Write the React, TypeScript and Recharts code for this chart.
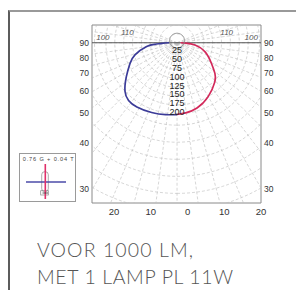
import React from 'react';
import { ComposedChart, Line, XAxis, YAxis, ReferenceLine, ReferenceDot, ReferenceArea } from 'recharts';

// Luminous intensity (cd per 1000 lm) vs angle from nadir (degrees)
const BLUE_ANGLES = [0, 9, 20, 32, 40, 47, 56, 66, 74, 83, 86, 88, 90];
const BLUE_CD = [202, 205, 209, 213, 212, 200, 172, 145, 123, 86, 62, 42, 22];
const RED_ANGLES = [0, 7, 17, 30, 44, 51, 59, 72, 83, 88, 90];
const RED_CD = [202, 199, 192, 175, 153, 137, 113, 83, 51, 25, 10];

// grid / labels
const RING_LABELS = [25, 50, 75, 100, 125, 150, 175, 200];
const OUTER_RINGS = [232, 280, 328, 376, 424, 472, 520, 570];
const RADIAL_STEP = 7.5;
const SIDE_TICKS = [90, 80, 70, 60, 50, 40, 30];
const BOTTOM_TICKS = [-20, -10, 0, 10, 20];
const TOP_LABELS = ['100', '110'];
const LEGEND_TEXT = '0.76 G + 0.04 T';
const TITLE_LINES = ['VOOR 1000 LM,', 'MET 1 LAMP PL 11W'];

const D = Math.PI / 180;
const X_DOMAIN: [number, number] = [-239, 236];
const Y_DOMAIN: [number, number] = [-451, 50];
const H = 237;
// bottom scale: zero offset and units per tick step (in cd units of the plot)
const B0 = 29.5;
const BK = 10.32;

const toXY = (angles: number[], cds: number[], side: number) =>
  angles.map((a, i) => ({ x: side * cds[i] * Math.sin(a * D), y: -cds[i] * Math.cos(a * D) }));

const blueData = toXY(BLUE_ANGLES, BLUE_CD, -1).reverse();
const redData = toXY(RED_ANGLES, RED_CD, 1);

const ringData: { x: number | null; y: number | null }[] = [];
[...RING_LABELS, ...OUTER_RINGS].forEach((r) => {
  for (let k = 0; k <= 144; k++) {
    const t = (k / 144) * 360 * D;
    ringData.push({ x: r * Math.sin(t), y: -r * Math.cos(t) });
  }
  ringData.push({ x: null, y: null });
});

const radialData: { x: number | null; y: number | null }[] = [];
for (let a = -112.5; a <= 112.5; a += RADIAL_STEP) {
  radialData.push({ x: 0, y: 0 });
  radialData.push({ x: 700 * Math.sin(a * D), y: -700 * Math.cos(a * D) });
  radialData.push({ x: null, y: null });
}

const nearestFmt = (vals: number[], labels: number[]) => (v: number) => {
  let best = 0;
  vals.forEach((t, i) => {
    if (Math.abs(t - v) < Math.abs(vals[best] - v)) best = i;
  });
  return String(Math.abs(labels[best]));
};

const sideTickValues = SIDE_TICKS.map((a) => (a === 90 ? 0 : -H * Math.cos(a * D) / Math.sin(a * D)));
const sideFmt = nearestFmt(sideTickValues, SIDE_TICKS);
const bottomTickValues = BOTTOM_TICKS.map((v) => B0 + v * BK);
const bottomFmt = nearestFmt(bottomTickValues, BOTTOM_TICKS);

// placement of the top angle labels (angle from nadir, radius in cd)
const TOP_POS = [
  { a: 94.4, r: 209 },
  { a: 102.5, r: 143 },
];
const TITLE_WIDTHS = [156, 196];

const FONT = 'Liberation Sans, Arial, sans-serif';
const tickStyle = { fontSize: 8.5, fill: '#333', fontFamily: FONT };

export default function App() {
  return (
    <div style={{ position: 'relative', width: 296, height: 282 }}>
      <style>{'html,body{overflow:hidden;}'}</style>
      <div
        style={{
          position: 'absolute',
          left: 0,
          top: 2,
          width: 296,
          height: 288,
          borderLeft: '2px solid #5c5c5c',
          borderTop: '2px solid #999',
          boxSizing: 'border-box',
        }}
      />
      <div style={{ position: 'absolute', left: 0, top: 0 }}>
        <ComposedChart width={296} height={230} margin={{ top: 17, left: 54, right: 13, bottom: 15 }}>
          <XAxis
            xAxisId="cd"
            type="number"
            dataKey="x"
            domain={X_DOMAIN}
            allowDataOverflow
            ticks={bottomTickValues}
            tickFormatter={bottomFmt}
            axisLine={false}
            tickLine={false}
            tickSize={4}
            tickMargin={1}
            height={20}
            interval={0}
            tick={{ ...tickStyle, fontSize: 9.5 }}
          />
          <YAxis
            yAxisId="l"
            type="number"
            domain={Y_DOMAIN}
            allowDataOverflow
            ticks={sideTickValues}
            tickFormatter={sideFmt}
            axisLine={false}
            tickLine={false}
            tickSize={3}
            tickMargin={0}
            width={30}
            interval={0}
            tick={tickStyle}
          />
          <YAxis
            yAxisId="r"
            orientation="right"
            type="number"
            domain={Y_DOMAIN}
            allowDataOverflow
            ticks={sideTickValues}
            tickFormatter={sideFmt}
            axisLine={false}
            tickLine={false}
            tickSize={3}
            tickMargin={0}
            width={30}
            interval={0}
            tick={tickStyle}
          />
          <Line
            xAxisId="cd"
            yAxisId="l"
            data={ringData}
            dataKey="y"
            stroke="#bcbcbc"
            strokeWidth={0.6}
            strokeDasharray="3 2"
            dot={false}
            activeDot={false}
            isAnimationActive={false}
            type="linear"
          />
          <Line
            xAxisId="cd"
            yAxisId="l"
            data={radialData}
            dataKey="y"
            stroke="#bcbcbc"
            strokeWidth={0.6}
            strokeDasharray="3 2"
            dot={false}
            activeDot={false}
            isAnimationActive={false}
            type="linear"
          />
          <ReferenceArea
            xAxisId="cd"
            yAxisId="l"
            x1={X_DOMAIN[0]}
            x2={X_DOMAIN[1]}
            y1={Y_DOMAIN[0]}
            y2={Y_DOMAIN[1]}
            fill="none"
            stroke="#8a8a8a"
            strokeWidth={1}
          />
          <ReferenceLine xAxisId="cd" yAxisId="l" y={0} stroke="#555" strokeWidth={1} />
          <ReferenceDot xAxisId="cd" yAxisId="l" x={0} y={6} r={7.5} fill="none" stroke="#8a8a8a" strokeWidth={0.8} />
          <Line
            xAxisId="cd"
            yAxisId="l"
            data={blueData}
            dataKey="y"
            stroke="#3b3b98"
            strokeWidth={1.7}
            dot={false}
            activeDot={false}
            isAnimationActive={false}
            type="natural"
          />
          <Line
            xAxisId="cd"
            yAxisId="l"
            data={redData}
            dataKey="y"
            stroke="#d3285a"
            strokeWidth={1.7}
            dot={false}
            activeDot={false}
            isAnimationActive={false}
            type="natural"
          />
          {RING_LABELS.map((v) => (
            <ReferenceDot
              key={v}
              xAxisId="cd"
              yAxisId="l"
              x={0}
              y={-v + 5}
              r={0}
              fill="none"
              stroke="none"
              label={{ value: String(v), position: 'center', fontSize: 9, fill: '#222', fontFamily: FONT }}
            />
          ))}
          {TOP_LABELS.map((t, i) =>
            [-1, 1].map((s) => (
              <ReferenceDot
                key={t + s}
                xAxisId="cd"
                yAxisId="l"
                x={s * TOP_POS[i].r * Math.sin(TOP_POS[i].a * D)}
                y={-TOP_POS[i].r * Math.cos(TOP_POS[i].a * D)}
                r={0}
                fill="none"
                stroke="none"
                label={{ value: t, position: 'center', fontSize: 8, fill: '#555', fontStyle: 'italic', fontFamily: FONT }}
              />
            ))
          )}
        </ComposedChart>
      </div>

      <div
        style={{
          position: 'absolute',
          left: 11,
          top: 145,
          width: 57,
          height: 49,
          border: '1px solid #9a9a9a',
          boxSizing: 'border-box',
          background: '#fff',
        }}
      >
        <svg width={57} height={49} style={{ position: 'absolute', left: -1, top: -1 }}>
          <text x={3.7} y={8} fontSize={5.6} fill="#444" textLength={51} fontFamily={FONT}>
            {LEGEND_TEXT}
          </text>
          <rect x={22.7} y={18.7} width={6.6} height={20} rx={3} fill="none" stroke="#888" strokeWidth={0.7} />
          <rect x={21.7} y={37.7} width={7.6} height={4.3} fill="none" stroke="#888" strokeWidth={0.7} />
          <line x1={7} y1={29} x2={47} y2={29} stroke="#4b4ba8" strokeWidth={1.6} />
          <line x1={26.3} y1={11} x2={26.3} y2={46} stroke="#e0306a" strokeWidth={1.6} />
          <line x1={23.5} y1={40} x2={29} y2={40} stroke="#333" strokeWidth={0.8} />
        </svg>
      </div>

      <svg width={296} height={60} style={{ position: 'absolute', left: 0, top: 222 }}>
        {TITLE_LINES.map((l, i) => (
          <text
            key={l}
            x={29}
            y={27 + i * 27}
            fontFamily='Lato, "Open Sans", sans-serif'
            fontWeight={300}
            fontSize={19.5}
            textLength={TITLE_WIDTHS[i]}
            lengthAdjust="spacing"
            fill="#555"
          >
            {l}
          </text>
        ))}
      </svg>
    </div>
  );
}
